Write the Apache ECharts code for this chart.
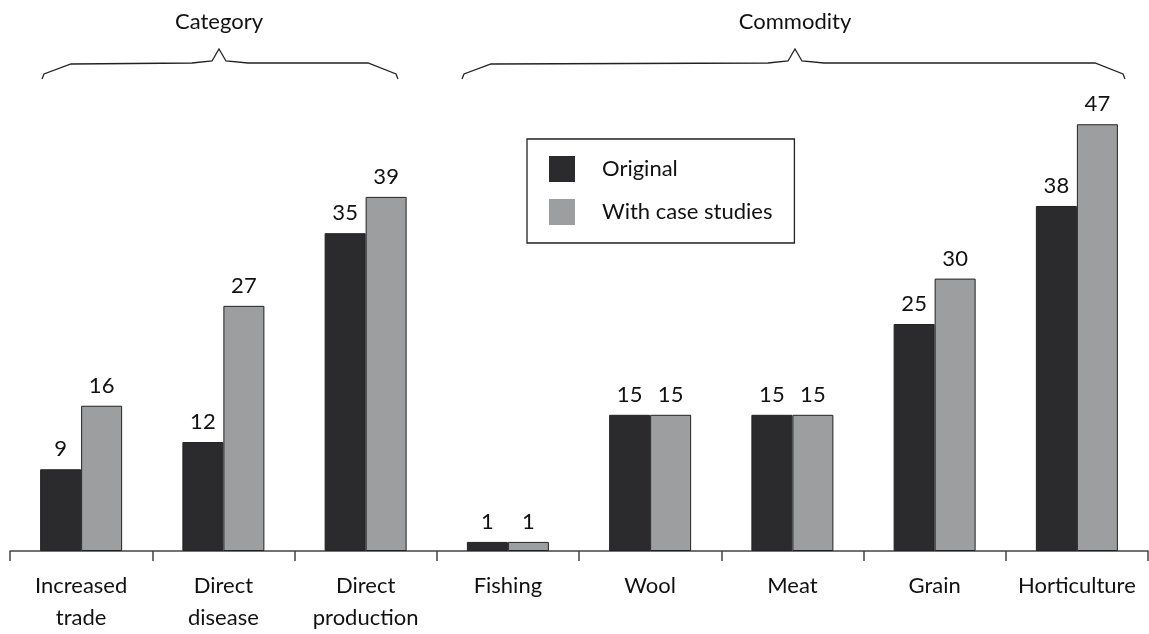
<!DOCTYPE html>
<html>
<head>
<meta charset="utf-8">
<script src="https://cdn.jsdelivr.net/npm/echarts@6/dist/echarts.min.js"></script>
<style>
  html, body { margin: 0; padding: 0; background: #fff; }
  #chart { width: 1149px; height: 634px; }
</style>
</head>
<body>
<div id="chart"></div>
<script>
const categories = ['Increased\ntrade', 'Direct\ndisease', 'Direct\nproduction', 'Fishing', 'Wool', 'Meat', 'Grain', 'Horticulture'];
const original = [9, 12, 35, 1, 15, 15, 25, 38];
const withCaseStudies = [16, 27, 39, 1, 15, 15, 30, 47];
const groupNames = ['Category', 'Commodity'];

const FONT = 'Lato';
const chart = echarts.init(document.getElementById('chart'));

// curly brace from x1 to x2, tip at tx
function brace(x1, x2, tx) {
  const yEnd = 79, yLine = 63, yTip = 49;
  return {
    type: 'polyline',
    shape: {
      points: [
        [x1, yEnd], [x1 + 2, yEnd - 5], [x1 + 29, yLine + 1], [tx - 27, yLine], [tx - 7, yLine - 2],
        [tx, yTip], [tx + 7, yLine - 2], [tx + 29, yLine], [x2 - 30, yLine], [x2 - 2, yEnd - 5], [x2, yEnd]
      ]
    },
    style: { stroke: '#222', lineWidth: 1.3, fill: null }
  };
}

const barStyle = (color) => ({ color: color, borderColor: '#222', borderWidth: 1 });
const label = {
  show: true,
  position: 'top',
  distance: 9,
  color: '#111',
  fontFamily: FONT,
  fontSize: 22
};

chart.setOption({
  backgroundColor: '#fff',
  animation: false,
  textStyle: { fontFamily: FONT },
  grid: { left: 10, right: 1, top: 97, bottom: 79, containLabel: false },
  legend: {
    orient: 'vertical',
    left: 527,
    top: 139,
    itemWidth: 26,
    itemHeight: 26,
    itemGap: 17,
    padding: [17, 22, 18, 22],
    borderColor: '#222',
    borderWidth: 1.3,
    icon: 'rect',
    itemStyle: { borderWidth: 0 },
    textStyle: { fontFamily: FONT, fontSize: 22, color: '#111', padding: [0, 0, 0, 22] },
    data: ['Original', 'With case studies']
  },
  xAxis: {
    type: 'category',
    data: categories,
    axisLine: { lineStyle: { color: '#444', width: 1.5 } },
    axisTick: { show: true, length: 10, lineStyle: { color: '#444', width: 1.5 } },
    axisLabel: {
      interval: 0,
      margin: 19,
      color: '#111',
      fontFamily: FONT,
      fontSize: 22,
      lineHeight: 32
    }
  },
  yAxis: {
    type: 'value',
    min: 0,
    max: 50,
    show: false,
    splitLine: { show: false }
  },
  series: [
    {
      name: 'Original',
      type: 'bar',
      data: original,
      barWidth: 41,
      barGap: '0%',
      itemStyle: barStyle('#2b2b2d'),
      label: label
    },
    {
      name: 'With case studies',
      type: 'bar',
      data: withCaseStudies,
      barWidth: 41,
      barGap: '0%',
      itemStyle: barStyle('#9d9ea0'),
      label: label
    }
  ],
  graphic: [
    brace(42, 398, 219),
    brace(462, 1125, 795),
    {
      type: 'text', x: 219, y: 22,
      style: { text: groupNames[0], fontFamily: FONT, fontSize: 22, fill: '#111', align: 'center', verticalAlign: 'middle' }
    },
    {
      type: 'text', x: 795, y: 22,
      style: { text: groupNames[1], fontFamily: FONT, fontSize: 22, fill: '#111', align: 'center', verticalAlign: 'middle' }
    }
  ]
});
</script>
</body>
</html>
